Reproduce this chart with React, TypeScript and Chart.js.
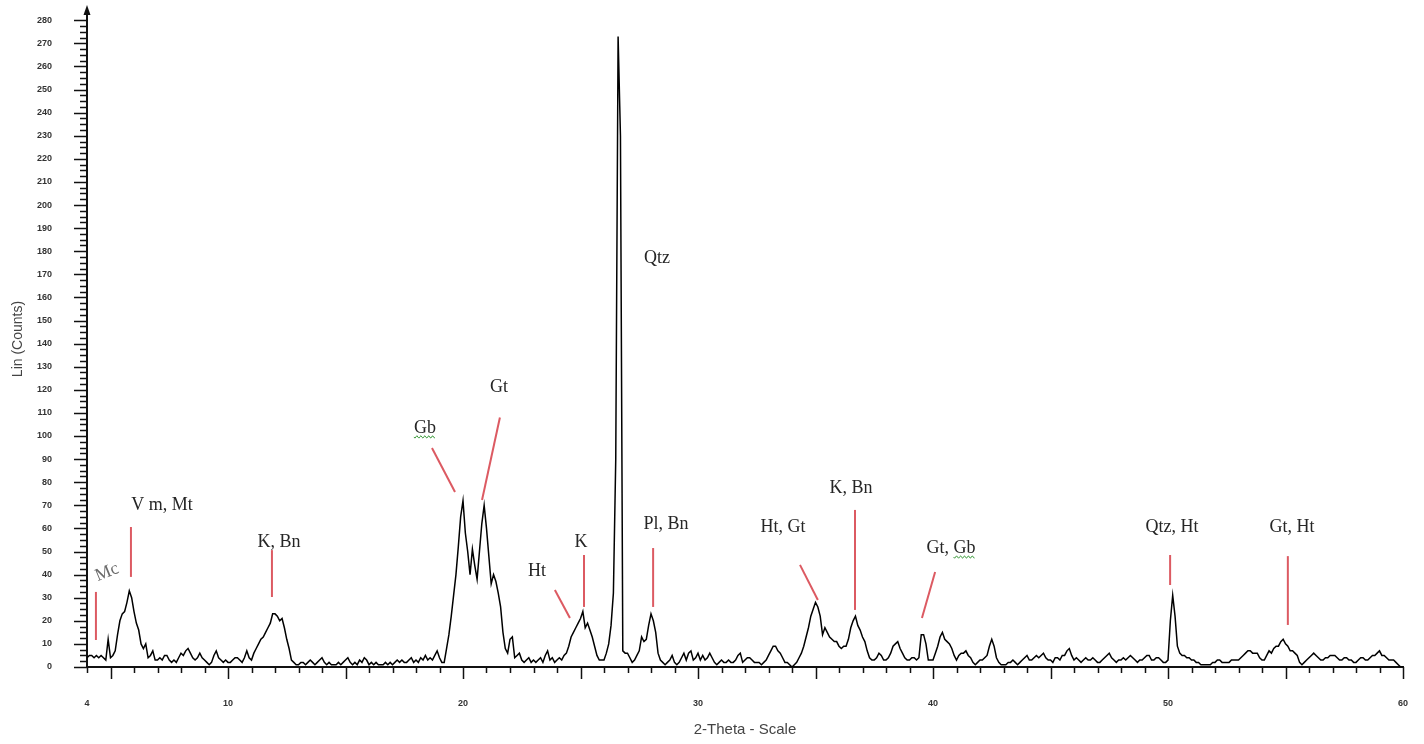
import React, { useEffect, useRef } from "react";
import { Chart, registerables } from "chart.js";

Chart.register(...registerables);

// ---- DATA ----
const thetaStart = 4;
const thetaStep = 0.1;
// Lin (Counts), one value per 0.1° 2-theta from 4.0 to 60.0 (rows = whole degrees)
const counts: number[] = [
  4, 5, 5, 4, 5, 4, 5, 4, 3, 12, // 4
  4, 5, 7, 14, 20, 23, 24, 28, 33, 30, // 5
  24, 19, 16, 10, 8, 10, 4, 5, 7, 3, // 6
  3, 4, 3, 5, 5, 3, 2, 3, 2, 4, // 7
  6, 5, 7, 8, 6, 4, 3, 4, 6, 4, // 8
  3, 2, 1, 2, 5, 7, 4, 3, 2, 3, // 9
  2, 2, 3, 4, 4, 3, 2, 4, 7, 4, // 10
  3, 6, 8, 10, 12, 13, 15, 17, 19, 23, // 11
  23, 22, 20, 21, 17, 12, 8, 3, 2, 1, // 12
  1, 2, 2, 1, 2, 3, 2, 1, 2, 3, // 13
  4, 2, 1, 2, 1, 1, 1, 2, 1, 2, // 14
  3, 4, 2, 1, 2, 1, 3, 2, 4, 3, // 15
  1, 2, 1, 2, 1, 1, 1, 2, 1, 2, // 16
  1, 2, 3, 2, 3, 2, 2, 3, 4, 2, // 17
  3, 2, 4, 3, 5, 3, 4, 3, 5, 7, // 18
  4, 2, 2, 8, 14, 22, 31, 40, 52, 65, // 19
  72, 58, 50, 40, 51, 44, 38, 50, 62, 70, // 20
  60, 48, 36, 40, 37, 32, 26, 15, 8, 6, // 21
  12, 13, 4, 5, 6, 3, 2, 3, 4, 2, // 22
  3, 2, 3, 4, 2, 5, 7, 3, 4, 2, // 23
  3, 4, 3, 5, 6, 9, 13, 15, 17, 19, // 24
  21, 24, 17, 19, 16, 13, 9, 5, 3, 3, // 25
  3, 6, 10, 18, 32, 90, 273, 230, 7, 6, // 26
  6, 4, 2, 3, 5, 7, 13, 11, 12, 18, // 27
  23, 20, 15, 6, 3, 2, 1, 2, 3, 5, // 28
  2, 1, 2, 4, 6, 3, 6, 7, 3, 4, // 29
  6, 3, 5, 3, 4, 6, 4, 2, 1, 2, // 30
  3, 2, 2, 3, 2, 2, 3, 5, 6, 2, // 31
  3, 4, 4, 3, 2, 2, 2, 1, 2, 3, // 32
  5, 7, 9, 9, 7, 6, 4, 2, 2, 1, // 33
  0, 1, 2, 4, 6, 9, 13, 17, 22, 25, // 34
  28, 26, 22, 14, 17, 15, 13, 12, 11, 11, // 35
  9, 8, 9, 9, 12, 17, 20, 22, 18, 16, // 36
  13, 11, 7, 4, 3, 3, 4, 6, 5, 3, // 37
  3, 4, 6, 9, 10, 11, 8, 6, 4, 3, // 38
  3, 4, 4, 3, 4, 14, 14, 10, 3, 3, // 39
  3, 6, 9, 13, 15, 12, 11, 10, 8, 5, // 40
  3, 5, 6, 6, 7, 5, 4, 2, 1, 2, // 41
  3, 3, 4, 5, 9, 12, 9, 4, 2, 1, // 42
  1, 1, 2, 2, 3, 2, 1, 2, 3, 4, // 43
  5, 3, 3, 4, 5, 4, 5, 6, 4, 3, // 44
  3, 2, 4, 4, 3, 5, 5, 7, 8, 5, // 45
  3, 4, 3, 2, 3, 4, 3, 3, 4, 3, // 46
  2, 2, 3, 4, 5, 6, 4, 3, 2, 3, // 47
  3, 4, 3, 4, 5, 4, 3, 2, 3, 3, // 48
  4, 5, 5, 3, 3, 4, 4, 3, 2, 2, // 49
  3, 20, 31, 22, 9, 6, 5, 5, 4, 4, // 50
  3, 3, 2, 2, 1, 1, 1, 1, 1, 2, // 51
  2, 3, 3, 2, 2, 2, 2, 3, 3, 3, // 52
  3, 4, 5, 6, 7, 7, 6, 6, 6, 4, // 53
  3, 3, 5, 7, 6, 8, 9, 9, 11, 12, // 54
  10, 9, 7, 7, 6, 5, 2, 1, 2, 3, // 55
  4, 5, 6, 5, 4, 3, 3, 4, 4, 5, // 56
  5, 5, 4, 3, 3, 4, 4, 3, 3, 2, // 57
  2, 3, 4, 4, 3, 3, 4, 5, 5, 6, // 58
  7, 5, 5, 4, 3, 3, 3, 2, 1, 0, // 59
  0, // 60
];

const xTickLabels = [4, 10, 20, 30, 40, 50, 60];
const yTickLabels = [
  0, 10, 20, 30, 40, 50, 60, 70, 80, 90, 100, 110, 120, 130, 140, 150, 160,
  170, 180, 190, 200, 210, 220, 230, 240, 250, 260, 270, 280,
];

// phase labels (text position and pointer line, in 2θ / counts)
type Ann = {
  text: string;
  tx: number;
  ty: number;
  rot?: number;
  color?: string;
  wavy?: string;
  line?: [number, number, number, number];
};
const phaseLabels: Ann[] = [
  { text: "Mc", tx: 4.85, ty: 41, rot: -22, color: "#6a6a6a", line: [4.38, 32.5, 4.38, 11.7] },
  { text: "V m, Mt", tx: 7.19, ty: 70, line: [5.87, 60.6, 5.87, 39] },
  { text: "K, Bn", tx: 12.17, ty: 54, line: [11.87, 50.6, 11.87, 30.3] },
  { text: "Gb", tx: 18.38, ty: 103.5, wavy: "Gb", line: [18.68, 94.8, 19.66, 75.8] },
  { text: "Gt", tx: 21.53, ty: 121, line: [21.57, 108, 20.81, 72.3] },
  { text: "Ht", tx: 23.15, ty: 41.6, line: [23.91, 33.3, 24.55, 21.2] },
  { text: "K", tx: 25.02, ty: 54, line: [25.15, 48.5, 25.15, 26] },
  { text: "Qtz", tx: 28.26, ty: 177 },
  { text: "Pl, Bn", tx: 28.64, ty: 62, line: [28.09, 51.5, 28.09, 26] },
  { text: "Ht, Gt", tx: 33.62, ty: 60.6, line: [34.34, 44.2, 35.1, 29] },
  { text: "K, Bn", tx: 36.51, ty: 77.5, line: [36.68, 68, 36.68, 24.7] },
  { text: "Gt, Gb", tx: 40.77, ty: 51.5, wavy: "Gb", line: [40.09, 41.1, 39.53, 21.2] },
  { text: "Qtz, Ht", tx: 50.17, ty: 60.6, line: [50.09, 48.5, 50.09, 35.5] },
  { text: "Gt, Ht", tx: 55.28, ty: 60.6, line: [55.1, 48, 55.1, 18.2] },
];

const decorPlugin = {
  id: "decor",
  afterDraw(chart: any) {
    const { ctx, chartArea } = chart;
    const xs = chart.scales.x;
    const ys = chart.scales.y;
    ctx.save();
    // axis tick marks
    ctx.strokeStyle = "#111";
    ctx.lineWidth = 1.5;
    ctx.beginPath();
    for (let v = 4; v <= 60; v++) {
      const px = Math.round(xs.getPixelForValue(v)) + 0.5;
      const len = v % 5 === 0 ? 12 : 6;
      ctx.moveTo(px, chartArea.bottom);
      ctx.lineTo(px, chartArea.bottom + len);
    }
    for (let v = 0; v <= 280; v += 2.5) {
      const py = Math.round(ys.getPixelForValue(v)) + 0.5;
      const len = v % 10 === 0 ? 13 : 7;
      ctx.moveTo(chartArea.left, py);
      ctx.lineTo(chartArea.left - len, py);
    }
    ctx.stroke();
    // arrow on top of y axis
    const ax = chartArea.left;
    ctx.fillStyle = "#111";
    ctx.beginPath();
    ctx.moveTo(ax, chartArea.top - 6);
    ctx.lineTo(ax - 3.5, chartArea.top + 4);
    ctx.lineTo(ax + 3.5, chartArea.top + 4);
    ctx.closePath();
    ctx.fill();

    // phase labels
    ctx.font = '18px "Liberation Serif", "Times New Roman", serif';
    ctx.textBaseline = "middle";
    for (const a of phaseLabels) {
      if (a.line) {
        ctx.strokeStyle = "#dc5a62";
        ctx.lineWidth = 2;
        ctx.beginPath();
        ctx.moveTo(xs.getPixelForValue(a.line[0]), ys.getPixelForValue(a.line[1]));
        ctx.lineTo(xs.getPixelForValue(a.line[2]), ys.getPixelForValue(a.line[3]));
        ctx.stroke();
      }
      const tx = xs.getPixelForValue(a.tx);
      const ty = ys.getPixelForValue(a.ty);
      ctx.save();
      ctx.translate(tx, ty);
      if (a.rot) ctx.rotate((a.rot * Math.PI) / 180);
      ctx.fillStyle = a.color || "#262626";
      ctx.textAlign = "center";
      ctx.fillText(a.text, 0, 0);
      if (a.wavy) {
        const full = ctx.measureText(a.text).width;
        const idx = a.text.indexOf(a.wavy);
        const pre = ctx.measureText(a.text.slice(0, idx)).width;
        const w = ctx.measureText(a.wavy).width;
        const x0 = -full / 2 + pre;
        ctx.strokeStyle = "#3d9b3d";
        ctx.lineWidth = 1;
        ctx.beginPath();
        for (let k = 0; k <= w; k += 1) {
          const yy = 9 + Math.sin(k * 1.6) * 1.2;
          if (k === 0) ctx.moveTo(x0 + k, yy);
          else ctx.lineTo(x0 + k, yy);
        }
        ctx.stroke();
      }
      ctx.restore();
    }
    ctx.restore();
  },
};

export default function App() {
  const ref = useRef<HTMLCanvasElement | null>(null);

  useEffect(() => {
    if (!ref.current) return;
    const points = counts.map((c, i) => ({
      x: Math.round((thetaStart + i * thetaStep) * 10) / 10,
      y: c,
    }));
    const chart = new Chart(ref.current, {
      type: "line",
      data: {
        datasets: [
          {
            label: "Lin (Counts)",
            data: points,
            borderColor: "#000",
            borderWidth: 1.5,
            pointRadius: 0,
            tension: 0,
            fill: false,
          },
        ],
      },
      plugins: [decorPlugin],
      options: {
        animation: false,
        responsive: false,
        devicePixelRatio: 1,
        layout: { padding: { top: 11, right: 21, left: 0, bottom: 0 } },
        plugins: { legend: { display: false }, tooltip: { enabled: false } },
        scales: {
          x: {
            type: "linear",
            min: 4,
            max: 60,
            grid: { display: false, drawTicks: true, tickLength: 30 },
            border: { display: true, color: "#111", width: 2 },
            afterFit: (s: any) => {
              s.height = 77;
            },
            afterBuildTicks: (s: any) => {
              s.ticks = xTickLabels.map((v) => ({ value: v }));
            },
            ticks: {
              autoSkip: false,
              maxRotation: 0,
              padding: 1,
              color: "#333",
              font: { family: '"Liberation Sans", Arial, sans-serif', size: 9, weight: "bold" },
            },
            title: {
              display: true,
              text: "2-Theta - Scale",
              color: "#444",
              padding: { top: 0, bottom: 5 },
              font: { family: '"Liberation Sans", Arial, sans-serif', size: 15 },
            },
          },
          y: {
            type: "linear",
            min: 0,
            max: 284,
            grid: { display: false, drawTicks: true, tickLength: 33 },
            border: { display: true, color: "#111", width: 2 },
            afterFit: (s: any) => {
              s.width = 87;
            },
            afterBuildTicks: (s: any) => {
              s.ticks = yTickLabels.map((v) => ({ value: v }));
            },
            ticks: {
              autoSkip: false,
              padding: 2,
              color: "#333",
              font: { family: '"Liberation Sans", Arial, sans-serif', size: 9, weight: "bold" },
            },
            title: {
              display: true,
              text: "Lin (Counts)",
              color: "#444",
              padding: { top: 10, bottom: 0 },
              font: { family: '"Liberation Sans", Arial, sans-serif', size: 14 },
            },
          },
        },
      },
    });
    return () => chart.destroy();
  }, []);

  return (
    <div style={{ position: "absolute", left: 0, top: 0, width: 1424, height: 744, background: "#fff" }}>
      <canvas ref={ref} width={1424} height={744} style={{ width: 1424, height: 744 }} />
    </div>
  );
}
